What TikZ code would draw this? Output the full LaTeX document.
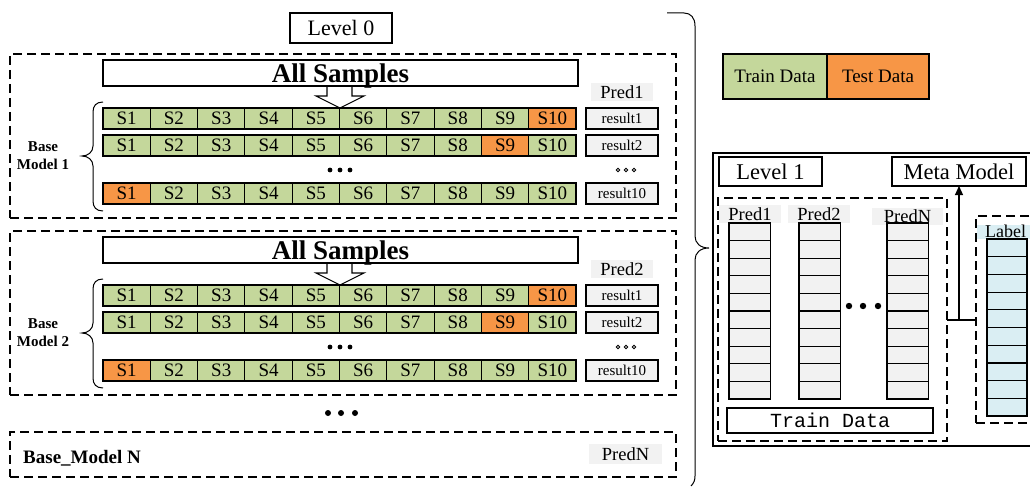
\documentclass[tikz,border=0pt]{standalone}
\usepackage{fontspec}
\setmainfont{Liberation Serif}
\setmonofont{Liberation Mono}
\usetikzlibrary{arrows.meta}
\definecolor{cgreen}{HTML}{C4D79B}
\definecolor{corange}{HTML}{F79646}
\definecolor{cgray}{HTML}{F2F2F2}
\definecolor{cblue}{HTML}{DAEEF3}
\newcommand\fs[1]{\fontsize{#1}{#1}\selectfont}
\begin{document}
\begin{tikzpicture}[x=1pt,y=-1pt,line join=miter,
  box/.style={draw,line width=1.1pt,inner sep=0pt,outer sep=0pt,anchor=north west},
  dbox/.style={draw,line width=1.1pt,dash pattern=on 9pt off 5pt,inner sep=0pt,outer sep=0pt,anchor=north west},
  cell/.style={box,minimum width=47.3pt,minimum height=21pt,font=\fs{19}},
  res/.style={box,fill=cgray,minimum width=72pt,minimum height=21pt,font=\fs{15}},
  lab/.style={fill=cgray,inner sep=0pt,outer sep=0pt,font=\fs{18.5},anchor=north west},
  vcell/.style={box,line width=1.2pt,fill=cgray,minimum width=41.5pt,minimum height=17.6pt},
  thin/.style={line width=1.1pt}]
\useasboundingbox (0,0) rectangle (1030,487);
\clip (0,0) rectangle (1030,487);

% Level 0 header
\node[box,minimum width=102pt,minimum height=30pt,font=\fs{22}] (lvl0) at (290,13) {Level 0};

% two base model blocks
\foreach \b in {1,2}{
  \pgfmathsetmacro{\off}{(\b-1)*177}
  \begin{scope}[shift={(0,\off)}]
    \node[dbox,minimum width=666pt,minimum height=164pt] (model\b) at (10,54) {};
    \node[box,minimum width=475pt,minimum height=26pt,font=\bfseries\fs{27},text depth=0pt] (as\b) at (103,60) {All Samples};
    \draw[thin] (327,86) -- (327,96) -- (316,96) -- (340,108) -- (364,96) -- (352,96) -- (352,86);
    \node[lab,minimum width=62pt,minimum height=18pt] (pred\b) at (591,83) {Pred\b};
    \foreach \r/\ry/\o/\rs in {1/108/10/result1,2/135/9/result2,3/183/1/result10}{
      \foreach \i in {1,...,10}{
        \ifnum\i=\o \def\cc{corange}\else\def\cc{cgreen}\fi
        \node[cell,fill=\cc] (c\b-\r-\i) at ({103+(\i-1)*47.3},\ry) {S\i};
      }
      \node[res] (res\b-\r) at (586,\ry) {\rs};
    }
    \foreach \dx in {330,340,350}{\fill (\dx,170) circle (2.4pt);}
    \foreach \dx in {618,626,634}{\draw[line width=0.9pt] (\dx,170) circle (1.8pt);}
    \draw[line width=1pt] (103,102) .. controls (96,102) and (93,106) .. (93,112) -- (93,146)
      .. controls (93,152) and (88,156) .. (82,156) .. controls (88,156) and (93,160) .. (93,166)
      -- (93,201) .. controls (93,207) and (96,211) .. (103,211);
    \node[font=\bfseries\fontsize{15}{18}\selectfont,align=center] (bm\b) at (43,156) {Base\\Model \b};
  \end{scope}
}

% dots between blocks
\foreach \dx in {328,341,355}{\fill (\dx,413) circle (3pt);}

% Base model N
\node[dbox,minimum width=666pt,minimum height=45pt] (modelN) at (10,432) {};
\node[anchor=west,inner sep=0pt,font=\bfseries\fs{19}] (bmN) at (23,458) {Base\_Model N};
\node[lab,minimum width=73pt,minimum height=20pt] (predN) at (589,444) {PredN};

% big brace
\draw[line width=1pt] (667,13) -- (684,13) .. controls (691,13) and (695,18) .. (695,26) -- (695,236)
  .. controls (695,243) and (700,248) .. (709,248) .. controls (700,248) and (695,253) .. (695,260)
  -- (695,476) .. controls (695,480) and (694,483) .. (691,486);

% legend
\node[box,fill=cgreen,minimum width=104pt,minimum height=45pt,font=\fs{19}] (legtrain) at (723,54) {Train Data};
\node[box,fill=corange,minimum width=102pt,minimum height=45pt,font=\fs{19}] (legtest) at (827,54) {Test Data};

% Level 1
\node[box,minimum width=340pt,minimum height=293pt] (lvl1outer) at (713,153) {};
\node[box,minimum width=103pt,minimum height=29pt,font=\fs{22.5}] (lvl1) at (719,157) {Level 1};
\node[box,minimum width=134pt,minimum height=29pt,font=\fs{22.5}] (meta) at (892,157) {Meta Model};
\node[dbox,minimum width=229pt,minimum height=243pt] (trainbox) at (718,198) {};
\node[lab,minimum width=62pt,minimum height=18pt] (l1p1) at (719,205) {Pred1};
\node[lab,minimum width=62pt,minimum height=18pt] (l1p2) at (788,205) {Pred2};
\node[lab,minimum width=71pt,minimum height=17pt] (l1pN) at (872,208) {PredN};
\foreach \cx/\n in {729/1,799/2,887/3}{
  \foreach \k in {0,...,9}{
    \node[vcell] (col\n-\k) at (\cx,{223+\k*17.6}) {};
  }
}
\foreach \dx in {849,863,878}{\fill (\dx,306) circle (3.2pt);}
\node[box,minimum width=206pt,minimum height=25pt,font=\ttfamily\fs{20}] (traindata) at (727,408) {Train Data};

% label column
\node[dbox,minimum width=70pt,minimum height=207pt] (labelbox) at (976,216) {};
\fill[cblue] (976.6,225) rectangle (1040,239);
\node[anchor=base west,inner sep=0pt,font=\fs{18}] (labeltext) at (985,237) {Label};
\foreach \k in {0,...,9}{
  \node[vcell,fill=cblue,minimum width=40pt,minimum height=17.7pt] (lab-\k) at (987,{239+\k*17.7}) {};
}

% connector to meta model
\coordinate (mid) at (959,320);
\draw[thin] (trainbox.east |- mid) -- (labelbox.west |- mid);
\draw[thin,-{Triangle[length=9pt,width=8pt]}] (mid) -- (meta.south);
\end{tikzpicture}
\end{document}
